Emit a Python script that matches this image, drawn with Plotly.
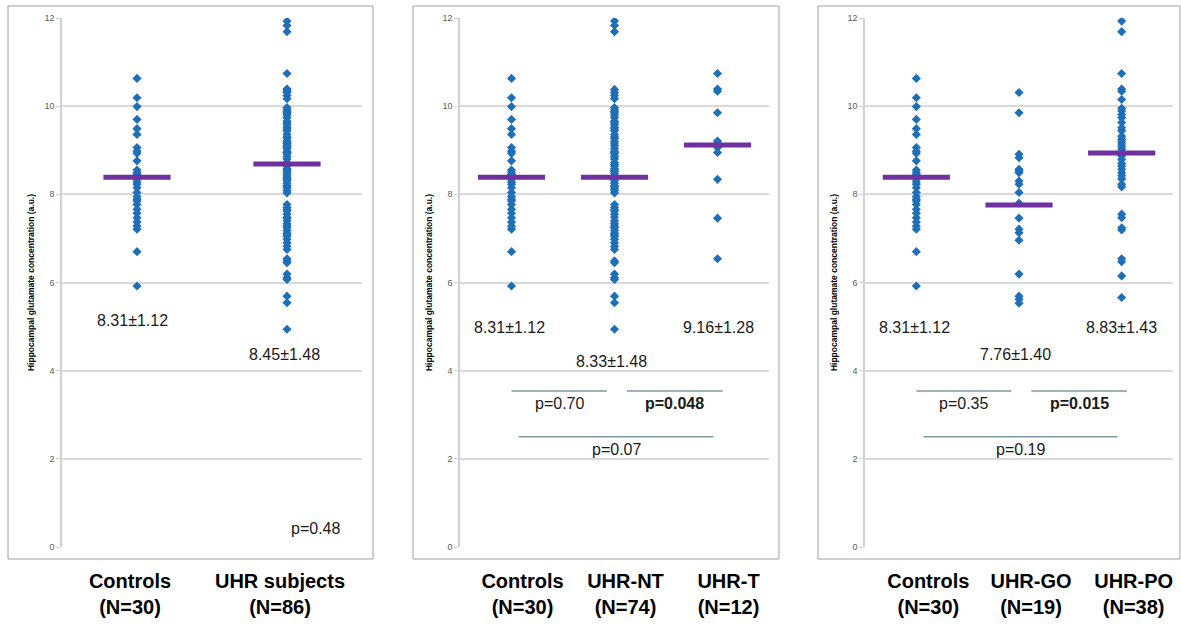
import plotly.graph_objects as go

# ---------------- data ----------------
controls = [10.63, 10.19, 9.99, 9.70, 9.49, 9.36, 9.06, 8.98, 8.93, 8.76,
            8.55, 8.49, 8.45, 8.34, 8.28, 8.23, 8.15, 8.04, 7.95, 7.89,
            7.85, 7.77, 7.66, 7.57, 7.47, 7.37, 7.28, 7.21, 6.70, 5.92]

uhr_nt = [11.93, 11.83, 11.69,
          10.38, 10.31, 10.24, 10.17,
          9.97, 9.92, 9.88, 9.85, 9.80, 9.74, 9.66, 9.62, 9.58, 9.52, 9.48,
          9.44, 9.36, 9.30, 9.27, 9.20, 9.15, 9.10, 9.04, 8.98, 8.95, 8.92,
          8.86, 8.80, 8.72, 8.68, 8.64, 8.58, 8.55, 8.52, 8.47, 8.42, 8.39,
          8.36, 8.31, 8.25, 8.20, 8.17, 8.14, 8.08, 8.03,
          7.77, 7.70, 7.65, 7.62, 7.55, 7.48, 7.40, 7.33, 7.28, 7.24, 7.18,
          7.12, 7.08, 7.05, 6.98, 6.90, 6.82, 6.75,
          6.49, 6.45, 6.19, 6.11, 6.07,
          5.69, 5.54, 4.94]

uhr_t = [10.74, 10.39, 10.34, 9.85, 9.21, 9.16, 9.10, 9.06, 8.95, 8.34, 7.46, 6.54]

uhr_all = uhr_nt + uhr_t

uhr_go = [10.31, 9.85, 8.91, 8.83, 8.57, 8.53, 8.49, 8.30, 8.23, 8.04,
          7.80, 7.46, 7.21, 7.13, 6.96, 6.19, 5.69, 5.62, 5.53]

uhr_po = [11.93, 11.69, 10.74, 10.39, 10.34, 10.15, 9.95, 9.89, 9.81, 9.74,
          9.63, 9.51, 9.44, 9.32, 9.25, 9.19, 9.14, 9.08, 9.02, 8.94,
          8.87, 8.79, 8.70, 8.64, 8.57, 8.49, 8.42, 8.35, 8.23, 8.17,
          7.55, 7.47, 7.24, 7.19, 6.54, 6.47, 6.15, 5.66]

# panel 1
p1_groups = ["Controls", "UHR subjects"]
p1_n = [30, 86]
p1_values = [controls, uhr_all]
p1_bar_level = [8.39, 8.69]
p1_mean = [8.31, 8.45]
p1_sd = [1.12, 1.48]
p1_p = "p=0.48"

# panel 2
p2_groups = ["Controls", "UHR-NT", "UHR-T"]
p2_n = [30, 74, 12]
p2_values = [controls, uhr_nt, uhr_t]
p2_bar_level = [8.39, 8.39, 9.12]
p2_mean = [8.31, 8.33, 9.16]
p2_sd = [1.12, 1.48, 1.28]
p2_pvals = ["p=0.70", "p=0.048", "p=0.07"]
p2_bold = [False, True, False]

# panel 3
p3_groups = ["Controls", "UHR-GO", "UHR-PO"]
p3_n = [30, 19, 38]
p3_values = [controls, uhr_go, uhr_po]
p3_bar_level = [8.39, 7.76, 8.94]
p3_mean = [8.31, 7.76, 8.83]
p3_sd = [1.12, 1.40, 1.43]
p3_pvals = ["p=0.35", "p=0.015", "p=0.19"]
p3_bold = [False, True, False]

y_ticks = [0, 2, 4, 6, 8, 10, 12]
y_title = "Hippocampal glutamate concentration (a.u.)"

# ---------------- styling ----------------
W, H = 1181, 625
PT_COLOR = "#1f6eb8"
BAR_COLOR = "#7030a0"
SIG_COLOR = "#7f99a6"
TXT = "#1a1a1a"
FONT = "Liberation Sans, Arial, sans-serif"


def px_x(p):
    return p / W


def px_y(p):
    return 1 - p / H


panels = [
    dict(groups=p1_groups, n=p1_n, values=p1_values, bar=p1_bar_level,
         mean=p1_mean, sd=p1_sd, dom=(62, 362), frame=(8, 373), shift=-7,
         label_y=[5.13, 4.36], label_dx=[-0.03, -0.02]),
    dict(groups=p2_groups, n=p2_n, values=p2_values, bar=p2_bar_level,
         mean=p2_mean, sd=p2_sd, dom=(460, 769), frame=(413, 779), shift=11,
         label_y=[4.99, 4.2, 4.99], label_dx=[-0.02, -0.03, 0.01],
         pvals=p2_pvals, bold=p2_bold),
    dict(groups=p3_groups, n=p3_n, values=p3_values, bar=p3_bar_level,
         mean=p3_mean, sd=p3_sd, dom=(865, 1173), frame=(818, 1180), shift=12,
         label_y=[4.99, 4.36, 4.99], label_dx=[-0.02, -0.03, 0.0],
         pvals=p3_pvals, bold=p3_bold),
]

fig = go.Figure()
shapes = []
annotations = []

# comparison bars: (i, j, x0-offset, x1-offset, y level, label y)
comparisons = [(0, 1, 0.0, -0.075, 3.54, 3.25),
               (1, 2, 0.12, 0.05, 3.54, 3.25),
               (0, 2, 0.07, -0.04, 2.5, 2.22)]

for k, pn in enumerate(panels):
    ax = "" if k == 0 else str(k + 1)
    xref, yref = "x" + ax, "y" + ax
    groups = pn["groups"]
    for gi, (g, vals) in enumerate(zip(groups, pn["values"])):
        fig.add_trace(go.Scatter(
            x=[g] * len(vals), y=vals, mode="markers",
            marker=dict(symbol="diamond", size=7, color=PT_COLOR),
            xaxis=xref, yaxis=yref, showlegend=False, hoverinfo="y"))
    fig.add_trace(go.Scatter(
        x=groups, y=pn["bar"], mode="markers",
        marker=dict(symbol="line-ew", size=48,
                    line=dict(width=5, color=BAR_COLOR)),
        xaxis=xref, yaxis=yref, showlegend=False, hoverinfo="y"))

    ticktext = [f"<b>{g}</b><br><b>(N={n})</b>" for g, n in zip(groups, pn["n"])]
    ncat = len(groups)
    fig.update_layout(**{
        "xaxis" + ax: dict(
            domain=[px_x(pn["dom"][0]), px_x(pn["dom"][1])],
            type="category", range=[-0.5, ncat - 0.5],
            categoryorder="array", categoryarray=groups,
            tickvals=groups, ticktext=ticktext,
            tickfont=dict(family=FONT, size=20, color="#000000"),
            showgrid=False, zeroline=False, showline=False, ticks="",
            ticklabelstandoff=20, ticklabelshift=pn["shift"],
            anchor=yref, automargin=False),
        "yaxis" + ax: dict(
            domain=[px_y(547), px_y(18)], range=[0, 12],
            tickvals=y_ticks, ticks="outside", ticklen=4,
            tickcolor="#d0d0d0", showline=True, linecolor="#d0d0d0",
            linewidth=1.5, gridcolor="#d9d9d9", gridwidth=1.5,
            zeroline=False, automargin=False,
            tickfont=dict(family=FONT, size=9, color="#595959"),
            title=dict(text=y_title, standoff=8,
                       font=dict(family=FONT, size=8.5, color="#000000",
                                 weight="bold")),
            anchor=xref),
    })

    # frame around panel
    shapes.append(dict(type="rect", xref="paper", yref="paper",
                       x0=px_x(pn["frame"][0]), x1=px_x(pn["frame"][1]),
                       y0=px_y(559), y1=px_y(6),
                       line=dict(color="#a0a0a0", width=1)))

    # mean ± sd labels
    for gi in range(ncat):
        annotations.append(dict(
            x=gi + pn["label_dx"][gi], y=pn["label_y"][gi], xref=xref, yref=yref,
            text=f"{pn['mean'][gi]:.2f}\u00b1{pn['sd'][gi]:.2f}",
            showarrow=False, font=dict(family=FONT, size=16, color=TXT)))

    if "pvals" in pn:
        for (i, j, a, b, yl, ylab), ptxt, bold in zip(comparisons, pn["pvals"], pn["bold"]):
            x0, x1 = i + a, j + b
            shapes.append(dict(type="line", xref=xref, yref=yref,
                               x0=x0, x1=x1, y0=yl, y1=yl,
                               line=dict(color=SIG_COLOR, width=1.5)))
            annotations.append(dict(
                x=(x0 + x1) / 2, y=ylab, xref=xref, yref=yref,
                text=f"<b>{ptxt}</b>" if bold else ptxt, showarrow=False,
                font=dict(family=FONT, size=16, color=TXT)))
    else:
        annotations.append(dict(
            x=1.19, y=0.41, xref=xref, yref=yref, text=p1_p, showarrow=False,
            font=dict(family=FONT, size=16, color=TXT)))

fig.update_layout(
    width=W, height=H, margin=dict(l=0, r=0, t=0, b=0, autoexpand=False),
    paper_bgcolor="white", plot_bgcolor="white",
    shapes=shapes, annotations=annotations, showlegend=False,
    font=dict(family=FONT))

fig.write_html("out.html", config={"displayModeBar": False},
               post_script="document.body.style.margin='0';document.body.style.padding='0';")
